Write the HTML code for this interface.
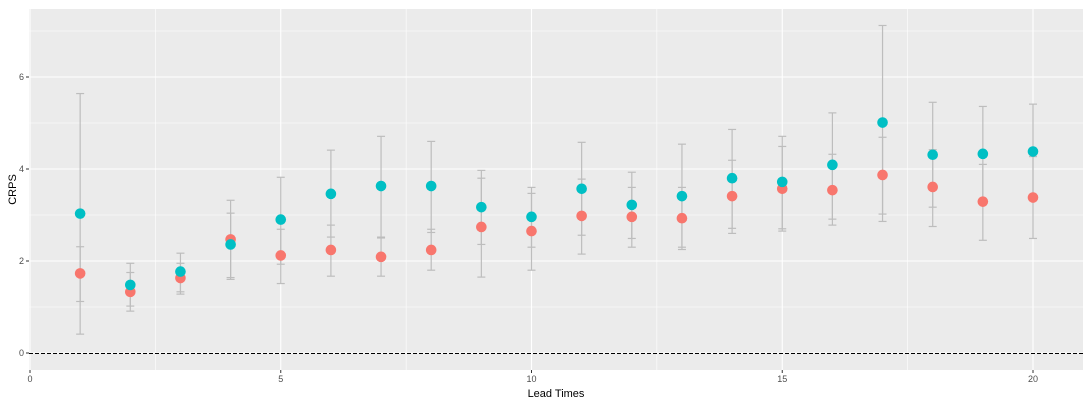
<!DOCTYPE html>
<html><head><meta charset="utf-8"><style>body{margin:0;background:#fff}svg{display:block;font-family:"Liberation Sans",sans-serif}</style></head>
<body>
<svg id="chart" width="1088" height="403" xmlns="http://www.w3.org/2000/svg"></svg>
<script>
const leadTimes=[1,2,3,4,5,6,7,8,9,10,11,12,13,14,15,16,17,18,19,20];
const blueValues=[3.03,1.48,1.77,2.36,2.90,3.46,3.63,3.63,3.17,2.96,3.57,3.22,3.41,3.80,3.72,4.09,5.01,4.31,4.33,4.38];
const redValues=[1.73,1.33,1.63,2.47,2.12,2.24,2.09,2.24,2.74,2.65,2.98,2.96,2.93,3.41,3.57,3.54,3.87,3.61,3.29,3.38];
const blueLow=[0.41,0.91,1.28,1.60,1.51,1.67,1.67,1.80,1.65,1.80,2.15,2.30,2.25,2.60,2.65,2.78,2.86,2.75,2.45,2.49];
const blueHigh=[5.64,1.95,2.17,3.32,3.82,4.41,4.71,4.60,3.97,3.60,4.58,3.93,4.54,4.86,4.71,5.22,7.12,5.45,5.36,5.41];
const redLow=[1.12,1.02,1.33,1.64,1.93,2.52,2.50,2.62,2.36,2.30,2.56,2.49,2.30,2.71,2.70,2.91,3.02,3.17,3.29,3.35];
const redHigh=[2.31,1.75,1.95,3.04,2.69,2.78,2.52,2.69,3.80,3.47,3.78,3.60,3.60,4.19,4.49,4.32,4.69,4.42,4.10,4.27];
const xTicks=[0,5,10,15,20];
const yTicks=[0,2,4,6];
const NS="http://www.w3.org/2000/svg";
const svg=document.getElementById('chart');
const L=29,R=1083,T=9,B=370;
const X=v=>30+v*50.15;
const Y=v=>353-v*46;
function mk(tag,attrs,parent){const e=document.createElementNS(NS,tag);for(const k in attrs)e.setAttribute(k,attrs[k]);(parent||svg).appendChild(e);return e;}
const panel=mk('rect',{x:L,y:T,width:R-L,height:B-T,fill:'#ebebeb'});


for(let v=1;v<=7;v+=2){const g=mk('line',{x1:L,x2:R,y1:Y(v),y2:Y(v),stroke:'#fff','stroke-width':0.6});

}
for(let v=2.5;v<=20;v+=5){const g=mk('line',{x1:X(v),x2:X(v),y1:T,y2:B,stroke:'#fff','stroke-width':0.6});

}
yTicks.forEach(v=>{const g=mk('line',{x1:L,x2:R,y1:Y(v),y2:Y(v),stroke:'#fff','stroke-width':1.1});


const tk=mk('line',{x1:L-3,x2:L,y1:Y(v),y2:Y(v),stroke:'#333','stroke-width':1});


const t=mk('text',{x:L-5,y:Y(v)+3,'text-anchor':'end','font-size':9,fill:'#4d4d4d'});t.textContent=v;

});
xTicks.forEach(v=>{const g=mk('line',{x1:X(v),x2:X(v),y1:T,y2:B,stroke:'#fff','stroke-width':1.1});


const tk=mk('line',{x1:X(v),x2:X(v),y1:B,y2:B+3,stroke:'#333','stroke-width':1});


const t=mk('text',{x:X(v),y:B+12,'text-anchor':'middle','font-size':9,fill:'#4d4d4d'});t.textContent=v;

});
const zl=mk('line',{x1:L,x2:R,y1:Y(0)+0.5,y2:Y(0)+0.5,stroke:'#000','stroke-width':1,'stroke-dasharray':'4,2','shape-rendering':'crispEdges'});


function errbar(x,lo,hi,name){const g=mk('g',{stroke:'#bdbdbd','stroke-width':1.2});


mk('line',{x1:x,x2:x,y1:Y(lo),y2:Y(hi)},g);mk('line',{x1:x-4,x2:x+4,y1:Y(lo),y2:Y(lo)},g);mk('line',{x1:x-4,x2:x+4,y1:Y(hi),y2:Y(hi)},g);}
leadTimes.forEach((lt,i)=>{errbar(X(lt),blueLow[i],blueHigh[i],'error-bar-blue');errbar(X(lt),redLow[i],redHigh[i],'error-bar-red');});
leadTimes.forEach((lt,i)=>{const r=mk('circle',{cx:X(lt),cy:Y(redValues[i]),r:5.3,fill:'#f8766d'});

});
leadTimes.forEach((lt,i)=>{const b=mk('circle',{cx:X(lt),cy:Y(blueValues[i]),r:5.3,fill:'#00bfc4'});

});
const xt=mk('text',{x:(L+R)/2,y:397,'text-anchor':'middle','font-size':11,fill:'#000'});xt.textContent='Lead Times';


const yt=mk('text',{x:16,y:(T+B)/2,'text-anchor':'middle','font-size':11,fill:'#000',transform:`rotate(-90 16 ${(T+B)/2})`});yt.textContent='CRPS';


</script>
</body></html>
